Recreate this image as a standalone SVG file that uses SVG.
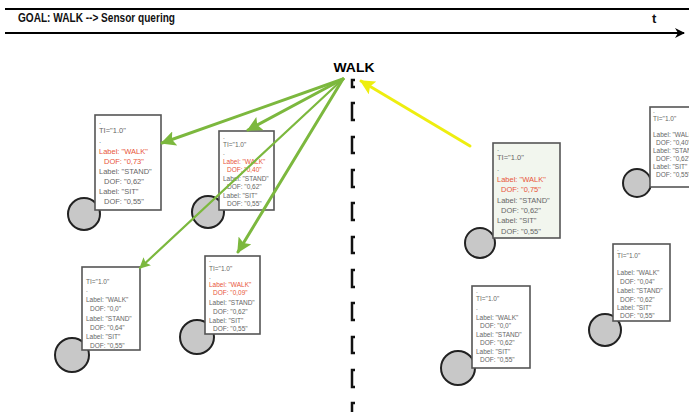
<svg xmlns="http://www.w3.org/2000/svg" width="689" height="412" viewBox="0 0 689 412">
<defs>
<marker id="ag" viewBox="0 0 10 10" refX="9" refY="5" markerWidth="5" markerHeight="5" orient="auto" markerUnits="strokeWidth"><path d="M0,0 L10,5 L0,10 L2,5 z" fill="#7cb83e"/></marker>
<marker id="ay" viewBox="0 0 10 10" refX="9" refY="5" markerWidth="5" markerHeight="5" orient="auto" markerUnits="strokeWidth"><path d="M0,0 L10,5 L0,10 L2,5 z" fill="#eeee10"/></marker>
<marker id="ak" viewBox="0 0 10 10" refX="9" refY="5" markerWidth="5" markerHeight="5" orient="auto" markerUnits="strokeWidth"><path d="M0,0 L10,5 L0,10 L3,5 z" fill="#000"/></marker>
</defs>
<style>
.box{fill:#fff;stroke:#555;stroke-width:1.6}
.boxh{fill:#f2f6ee;stroke:#555;stroke-width:1.6}
.c{fill:#c8c8c8;stroke:#222;stroke-width:2}
.t{font-family:"Liberation Sans",Arial,sans-serif;fill:#666}
.r{fill:#e8553a}
.s7{font-size:7.5px}
.s6{font-size:6.5px}
.g{stroke:#7cb83e;fill:none;stroke-linecap:round}
.br{stroke:#111;stroke-width:2.5;fill:none}
</style>
<rect width="689" height="412" fill="#fff"/>
<line x1="5" y1="9" x2="689" y2="9" stroke="#000" stroke-width="2"/>
<text x="18" y="22" font-family="Liberation Sans,Arial,sans-serif" font-weight="bold" font-size="13" textLength="157" lengthAdjust="spacingAndGlyphs" fill="#111">GOAL: WALK --&gt; Sensor quering</text>
<text x="652" y="23" font-family="Liberation Sans,Arial,sans-serif" font-weight="bold" font-size="13" fill="#111">t</text>
<line x1="5" y1="33" x2="684" y2="33" stroke="#000" stroke-width="2" marker-end="url(#ak)"/>
<text x="354" y="72" text-anchor="middle" font-family="Liberation Sans,Arial,sans-serif" font-weight="bold" font-size="12.5" fill="#000" textLength="41" lengthAdjust="spacingAndGlyphs">WALK</text>
<g id="timeline">
<path class="br" d="M355,80 H352 V87 H355"/>
<path class="br" d="M355,103 H352 V120 H355"/>
<path class="br" d="M355,137 H352 V153 H355"/>
<path class="br" d="M355,170 H352 V187 H355"/>
<path class="br" d="M355,203 H352 V220 H355"/>
<path class="br" d="M355,237 H352 V253 H355"/>
<path class="br" d="M355,270 H352 V287 H355"/>
<path class="br" d="M355,303 H352 V320 H355"/>
<path class="br" d="M355,337 H352 V353 H355"/>
<path class="br" d="M355,370 H352 V387 H355"/>
<path class="br" d="M355,403 H352 V412"/>
</g>
<g id="nodeA">
<circle class="c" cx="84" cy="214" r="16"/>
<rect class="box" x="95" y="115" width="66" height="95"/>
<g class="t s7">
<text x="99" y="124">.</text>
<text x="99" y="133">TI="1.0"</text>
<text x="99" y="143">.</text>
<text class="r" x="99" y="154">Label: "WALK"</text>
<text class="r" x="104" y="164">DOF: "0,73"</text>
<text x="99" y="174">Label: "STAND"</text>
<text x="104" y="184">DOF: "0,62"</text>
<text x="99" y="194">Label: "SIT"</text>
<text x="104" y="204">DOF: "0,55"</text>
</g>
</g>
<g id="nodeB">
<circle class="c" cx="208" cy="212" r="16"/>
<rect class="box" x="219" y="131" width="55" height="79"/>
<g class="t s6">
<text x="223" y="139">.</text>
<text x="223" y="147">TI="1.0"</text>
<text x="223" y="155">.</text>
<text class="r" x="223" y="164">Label: "WALK"</text>
<text class="r" x="227" y="172">DOF: "0,40"</text>
<text x="223" y="181">Label: "STAND"</text>
<text x="227" y="189">DOF: "0,62"</text>
<text x="223" y="198">Label: "SIT"</text>
<text x="227" y="206">DOF: "0,55"</text>
</g>
</g>
<g id="nodeC">
<circle class="c" cx="72" cy="355" r="17"/>
<rect class="box" x="82" y="267" width="58" height="83"/>
<g class="t s6">
<text x="86" y="284">TI="1.0"</text>
<text x="86" y="292">.</text>
<text x="86" y="302">Label: "WALK"</text>
<text x="90" y="311">DOF: "0,0"</text>
<text x="86" y="321">Label: "STAND"</text>
<text x="90" y="330">DOF: "0,64"</text>
<text x="86" y="339">Label: "SIT"</text>
<text x="90" y="348">DOF: "0,55"</text>
</g>
</g>
<g id="nodeD">
<circle class="c" cx="197" cy="337" r="17"/>
<rect class="box" x="205" y="256" width="55" height="78"/>
<g class="t s6">
<text x="209" y="262">.</text>
<text x="209" y="271">TI="1.0"</text>
<text x="209" y="279">.</text>
<text class="r" x="209" y="287">Label: "WALK"</text>
<text class="r" x="213" y="295">DOF: "0,09"</text>
<text x="209" y="305">Label: "STAND"</text>
<text x="213" y="314">DOF: "0,62"</text>
<text x="209" y="323">Label: "SIT"</text>
<text x="213" y="331">DOF: "0,55"</text>
</g>
</g>
<g id="nodeE">
<circle class="c" cx="480" cy="243" r="15"/>
<rect class="boxh" x="493" y="143" width="67" height="95"/>
<g class="t s7">
<text x="497" y="151">.</text>
<text x="497" y="160">TI="1.0"</text>
<text x="497" y="171">.</text>
<text class="r" x="497" y="182">Label: "WALK"</text>
<text class="r" x="501" y="192">DOF: "0,75"</text>
<text x="497" y="203">Label: "STAND"</text>
<text x="501" y="213">DOF: "0,62"</text>
<text x="497" y="223">Label: "SIT"</text>
<text x="501" y="234">DOF: "0,55"</text>
</g>
</g>
<g id="nodeF">
<circle class="c" cx="637" cy="183" r="14"/>
<rect class="box" x="650" y="107" width="50" height="80"/>
<g class="t s6">
<text x="653" y="113">.</text>
<text x="653" y="121">TI="1.0"</text>
<text x="653" y="137">Label: "WALK"</text>
<text x="656" y="145">DOF: "0,40"</text>
<text x="653" y="153">Label: "STAND"</text>
<text x="656" y="161">DOF: "0,62"</text>
<text x="653" y="169">Label: "SIT"</text>
<text x="656" y="177">DOF: "0,55"</text>
</g>
</g>
<g id="nodeG">
<circle class="c" cx="605" cy="330" r="16"/>
<rect class="box" x="613" y="244" width="57" height="77"/>
<g class="t s6">
<text x="617" y="251">.</text>
<text x="617" y="258">TI="1.0"</text>
<text x="617" y="275">Label: "WALK"</text>
<text x="620" y="284">DOF: "0,04"</text>
<text x="617" y="293">Label: "STAND"</text>
<text x="620" y="302">DOF: "0,62"</text>
<text x="617" y="310">Label: "SIT"</text>
<text x="620" y="318">DOF: "0,55"</text>
</g>
</g>
<g id="nodeH">
<circle class="c" cx="458" cy="368" r="17"/>
<rect class="box" x="472" y="286" width="58" height="82"/>
<g class="t s6">
<text x="476" y="293">.</text>
<text x="476" y="301">TI="1.0"</text>
<text x="476" y="310">.</text>
<text x="476" y="320">Label: "WALK"</text>
<text x="480" y="328">DOF: "0,0"</text>
<text x="476" y="337">Label: "STAND"</text>
<text x="480" y="345">DOF: "0,62"</text>
<text x="476" y="354">Label: "SIT"</text>
<text x="480" y="362">DOF: "0,55"</text>
</g>
</g>
<g id="connectors">
<line class="g" x1="343" y1="79" x2="162" y2="143" stroke-width="3" marker-end="url(#ag)"/>
<line class="g" x1="343" y1="79" x2="248" y2="130" stroke-width="3" marker-end="url(#ag)"/>
<line class="g" x1="343" y1="79" x2="140" y2="268" stroke-width="2.2" marker-end="url(#ag)"/>
<line class="g" x1="343" y1="79" x2="238" y2="252" stroke-width="3" marker-end="url(#ag)"/>
<line x1="470" y1="146" x2="361" y2="81" stroke="#eeee10" stroke-width="3" stroke-linecap="round" marker-end="url(#ay)"/>
</g>
</svg>
